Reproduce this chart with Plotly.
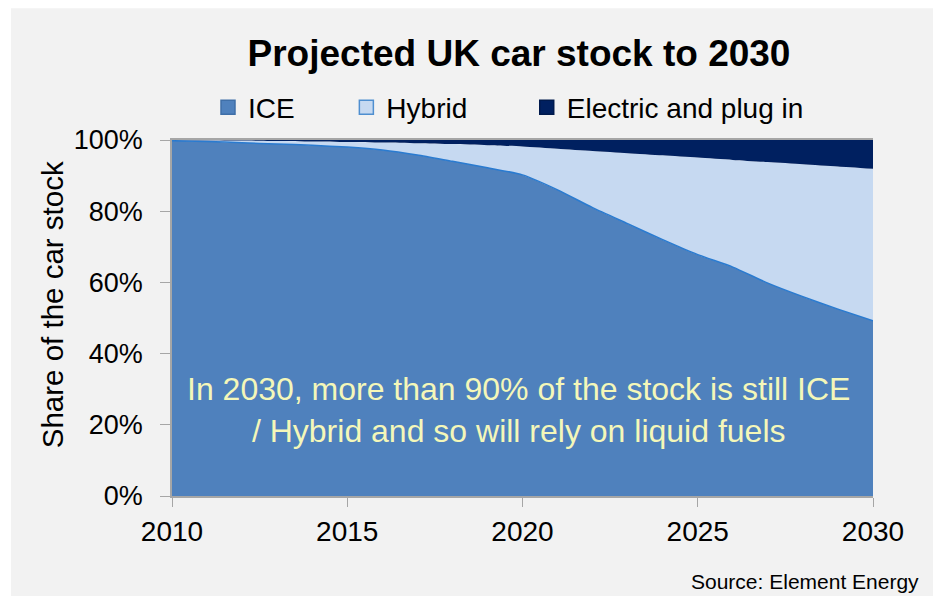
import plotly.graph_objects as go

years = list(range(2010, 2031))
ice = [99.8, 99.6, 99.2, 98.9, 98.5, 98.0, 97.2, 95.8, 94.0, 92.2, 90.2,
       86.0, 81.0, 76.5, 72.0, 67.8, 64.3, 59.8, 56.0, 52.5, 49.2]
hybrid = [0.2, 0.35, 0.65, 0.85, 1.1, 1.45, 2.1, 3.3, 4.85, 6.35, 8.0,
          11.55, 15.9, 19.8, 23.7, 27.25, 30.1, 34.0, 37.2, 40.05, 42.7]
electric = [0.0, 0.05, 0.15, 0.25, 0.4, 0.55, 0.7, 0.9, 1.15, 1.45, 1.8,
            2.45, 3.1, 3.7, 4.3, 4.95, 5.6, 6.2, 6.8, 7.45, 8.1]

series_names = ["ICE", "Hybrid", "Electric and plug in"]
fill_colors = ["#4F81BD", "#C6D9F1", "#002060"]
legend_borders = ["#3F6FA8", "#4F8FD0", "#001a4d"]
y_ticks = [0, 20, 40, 60, 80, 100]
y_tick_labels = ["0%", "20%", "40%", "60%", "80%", "100%"]
x_ticks = [2010, 2015, 2020, 2025, 2030]

FONT = "Liberation Sans, Arial, sans-serif"

fig = go.Figure()

fig.add_trace(go.Scatter(x=years, y=ice, stackgroup="one", mode="lines",
                         line=dict(color="#2A7BD0", width=1.5, shape="spline", smoothing=0.6),
                         fillcolor=fill_colors[0], showlegend=False, hoverinfo="skip"))
fig.add_trace(go.Scatter(x=years, y=hybrid, stackgroup="one", mode="lines",
                         line=dict(color=fill_colors[1], width=0, shape="spline", smoothing=0.6),
                         fillcolor=fill_colors[1], showlegend=False, hoverinfo="skip"))
fig.add_trace(go.Scatter(x=years, y=electric, stackgroup="one", mode="lines",
                         line=dict(color=fill_colors[2], width=0),
                         fillcolor=fill_colors[2], showlegend=False, hoverinfo="skip"))

pads = ["\u00a0" * 6, "\u00a0" * 7, ""]
for name, col, bcol, pad in zip(series_names, fill_colors, legend_borders, pads):
    fig.add_trace(go.Scatter(x=[None], y=[None], mode="markers", name=name + pad,
                             marker=dict(symbol="square", size=14, color=col,
                                         line=dict(color=bcol, width=1.5))))

fig.update_layout(
    width=933, height=596,
    margin=dict(l=172, r=60, t=139.5, b=100),
    paper_bgcolor="white",
    plot_bgcolor="#F2F2F2",
    font=dict(family=FONT, size=27, color="black"),
    title=dict(text="<b>Projected UK car stock to 2030</b>", x=519 / 933, xanchor="center",
               y=1 - 53 / 596, yanchor="middle", yref="container",
               font=dict(size=37, family=FONT, color="black")),
    legend=dict(orientation="h", traceorder="normal", x=(208 - 172) / 701, xanchor="left",
                y=(496 - 107) / 356.5, yanchor="middle",
                font=dict(size=28, family=FONT), bgcolor="rgba(0,0,0,0)",
                itemclick=False, itemdoubleclick=False),
    xaxis=dict(range=[2010, 2030], tickvals=x_ticks, showgrid=False, zeroline=False,
               showline=True, linecolor="#A6A6A6", linewidth=2, mirror=True,
               ticks="outside", ticklen=9, tickcolor="#A6A6A6", tickwidth=1,
               tickfont=dict(size=28), ticklabelstandoff=0),
    yaxis=dict(range=[0, 100], tickmode="array", tickvals=y_ticks, ticktext=y_tick_labels,
               showgrid=False,
               zeroline=False, showline=True, linecolor="#A6A6A6", linewidth=1.5,
               ticks="outside", ticklen=10, tickcolor="#A6A6A6", tickwidth=1,
               tickfont=dict(size=27), ticklabelstandoff=12),
    shapes=[dict(type="rect", xref="paper", yref="paper",
                 x0=(11 - 172) / 701, x1=1.2, y0=-0.35, y1=(496 - 7.5) / 356.5,
                 fillcolor="#F2F2F2", line=dict(width=0), layer="below")],
    annotations=[
        dict(text="Share of the car stock", textangle=-90, xref="paper", yref="paper",
             x=(52 - 172) / 701, y=(496 - 305) / 356.5, xanchor="center", yanchor="middle",
             showarrow=False, font=dict(size=29.5, family=FONT, color="black")),
        dict(text="In 2030, more than 90% of the stock is still ICE<br>/ Hybrid and so will rely on liquid fuels",
             xref="paper", yref="paper", x=(518 - 172) / 701, y=(496 - 410) / 356.5,
             xanchor="center", yanchor="middle", showarrow=False, align="center",
             font=dict(size=32, family=FONT, color="#F4F7B9")),
        dict(text="Source: Element Energy", xref="paper", yref="paper",
             x=(921 - 172) / 701, y=(496 - 582) / 356.5, xanchor="right", yanchor="middle",
             showarrow=False, font=dict(size=21, family=FONT, color="black")),
    ],
)

fig.write_html("out.html")
